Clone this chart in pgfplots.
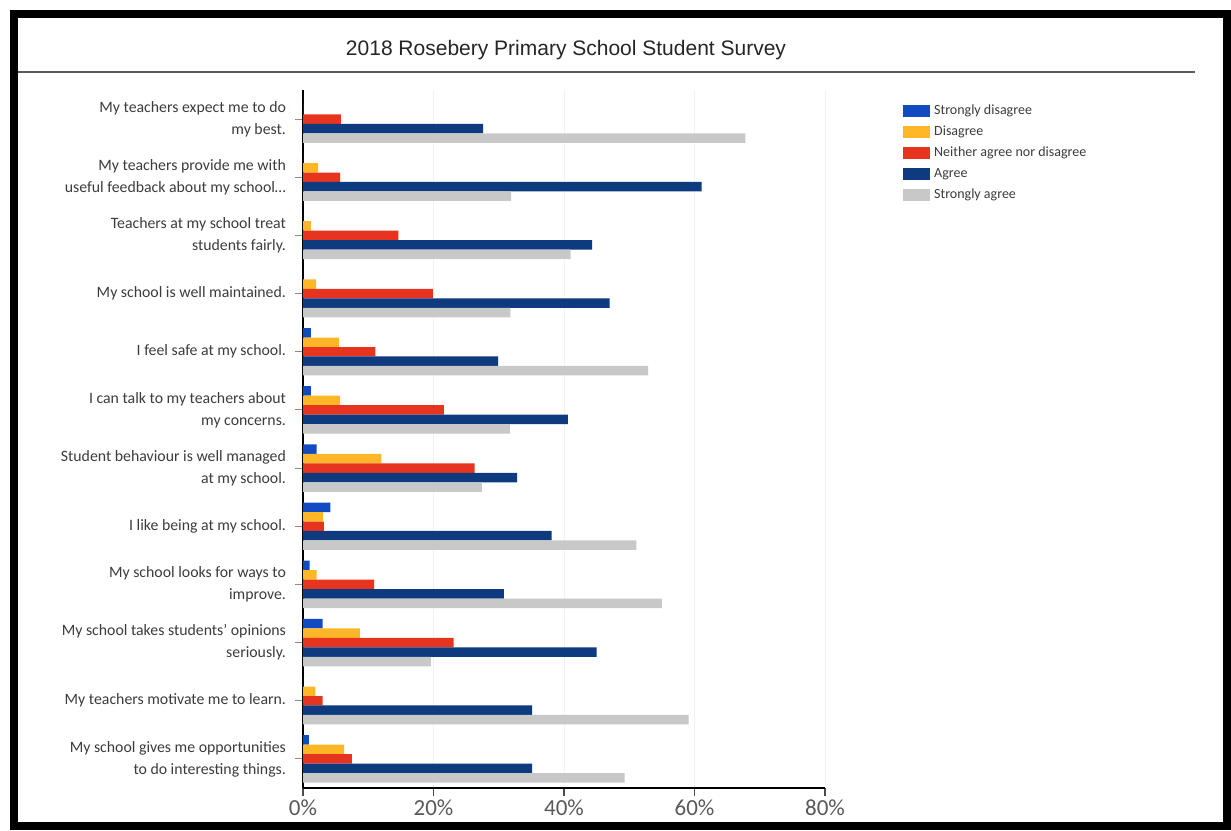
\documentclass[border=0pt]{standalone}
\usepackage{pgfplots}
\usepackage{pgfplotstable}
\pgfplotsset{compat=1.18}
\usepackage{fontspec}
\setmainfont{Carlito}
\newfontfamily\arialf{Liberation Sans}
\definecolor{csd}{RGB}{18,74,196}
\definecolor{cdis}{RGB}{255,183,40}
\definecolor{cnei}{RGB}{230,52,30}
\definecolor{cagr}{RGB}{14,58,128}
\definecolor{csa}{RGB}{200,200,200}
\definecolor{labtxt}{RGB}{60,60,60}

\pgfplotstableread{
idx sd dis nei agr sa
0 0 0 5.8 27.6 67.8
1 0 2.3 5.7 61.1 31.9
2 0 1.2 14.6 44.3 41.0
3 0 2.0 19.9 47.0 31.8
4 1.2 5.5 11.1 29.9 52.9
5 1.2 5.7 21.6 40.6 31.7
6 2.1 12.0 26.3 32.8 27.4
7 4.2 3.1 3.2 38.1 51.1
8 1.0 2.1 10.9 30.8 55.0
9 3.0 8.7 23.1 45.0 19.6
10 0 1.9 3.0 35.1 59.1
11 0.9 6.3 7.5 35.1 49.3
}\data

\begin{document}
\begin{tikzpicture}[x=1pt,y=1pt]
% canvas: 1px = 0.5pt, 1231x830 px
\fill[white] (0,0) rectangle (615.5,415);
\draw[black, line width=4pt] (7,2) rectangle (613.5,408);
\draw[gray!70!black, line width=1pt] (9,379) -- (597.5,379);
\node[font=\arialf\fontsize{10.5}{12}\selectfont, text=black!85] at (283,390) {2018 Rosebery Primary School Student Survey};
\begin{axis}[
  at={(151.5pt,21pt)}, anchor=south west,
  scale only axis, width=261pt, height=349pt,
  xmin=0, xmax=80, ymin=-0.5, ymax=11.5,
  y dir=reverse,
  axis x line*=bottom, axis y line*=left,
  axis line style={black, line width=1pt},
  xtick={0,20,40,60,80},
  xticklabel={\pgfmathprintnumber{\tick}\%},
  /pgf/number format/assume math mode=true,
  xticklabel style={font=\fontsize{11.5}{13}\selectfont, text=black!65, yshift=1.5pt},
  x axis line style={-},
  y axis line style={-},
  xtick style={draw=black!70, line width=0.6pt},
  ytick style={draw=black!45, line width=0.5pt},
  tick align=outside,
  major tick length=4pt,
  ytick={0,1,2,3,4,5,6,7,8,9,10,11},
  yticklabels={{My teachers expect me to do\\my best.},
    {My teachers provide me with\\useful feedback about my school\ldots},
    {Teachers at my school treat\\students fairly.},
    {My school is well maintained.},
    {I feel safe at my school.},
    {I can talk to my teachers about\\my concerns.},
    {Student behaviour is well managed\\at my school.},
    {I like being at my school.},
    {My school looks for ways to\\improve.},
    {My school takes students' opinions\\seriously.},
    {My teachers motivate me to learn.},
    {My school gives me opportunities\\to do interesting things.}},
  yticklabel style={align=right, font=\fontsize{7.9}{11}\selectfont, text=labtxt, xshift=-1pt},
  xmajorgrids, grid style={black!5},
  legend style={at={(axis description cs:1.149,0.985)}, anchor=north west, draw=none, fill=none,
     font=\fontsize{7}{8}\selectfont, text=labtxt, row sep=0.2pt, inner sep=0pt},
  legend cell align=left,
  legend image code/.code={\fill[#1] (0pt,-3pt) rectangle (13.5pt,3pt);},
]
\addplot[xbar, bar width=0.163, bar shift=-0.326, fill=csd, draw=none] table[x=sd, y=idx] {\data};
\addplot[xbar, bar width=0.163, bar shift=-0.163, fill=cdis, draw=none] table[x=dis, y=idx] {\data};
\addplot[xbar, bar width=0.163, bar shift=0, fill=cnei, draw=none] table[x=nei, y=idx] {\data};
\addplot[xbar, bar width=0.163, bar shift=0.163, fill=cagr, draw=none] table[x=agr, y=idx] {\data};
\addplot[xbar, bar width=0.163, bar shift=0.326, fill=csa, draw=none] table[x=sa, y=idx] {\data};
\legend{Strongly disagree, Disagree, Neither agree nor disagree, Agree, Strongly agree}
\end{axis}
\end{tikzpicture}
\end{document}
